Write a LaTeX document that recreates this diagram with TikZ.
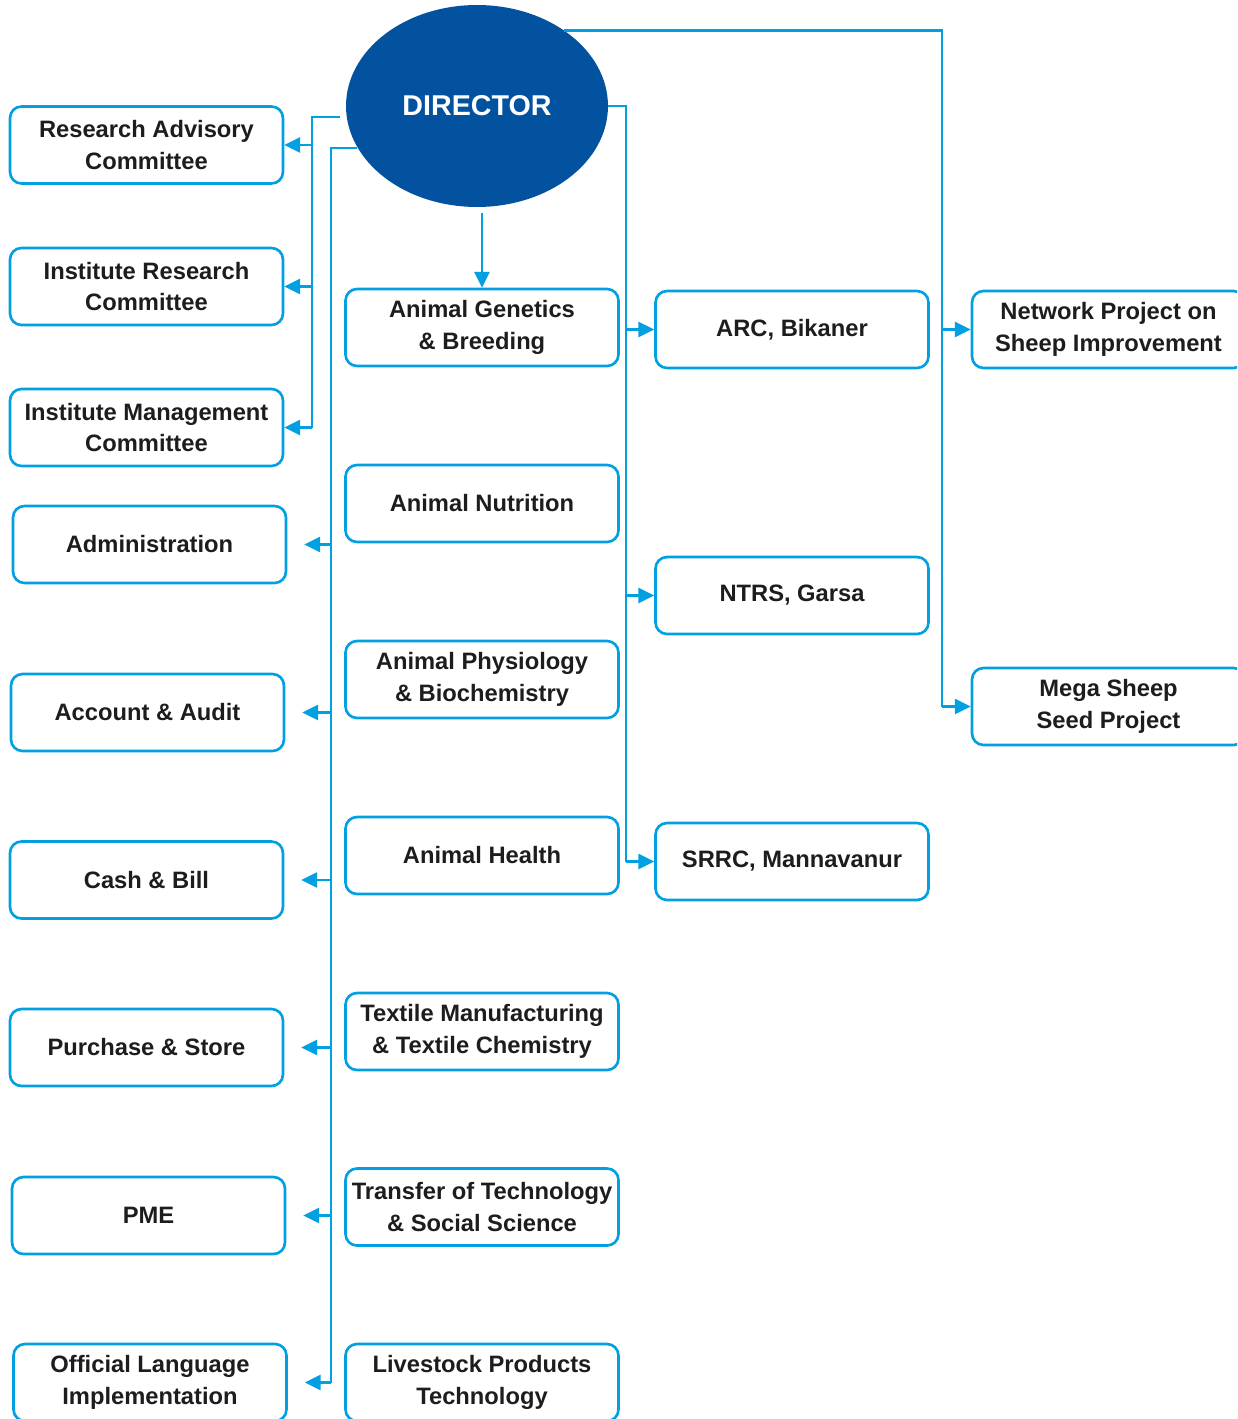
\documentclass[tikz,border=0pt]{standalone}
\usepackage{fontspec}
\setmainfont{Liberation Sans}
\usepackage{tikz}
\usetikzlibrary{arrows.meta,calc,positioning,shapes.geometric}
\definecolor{dirblue}{RGB}{3,82,160}
\definecolor{lineblue}{RGB}{0,160,226}
\definecolor{txtgray}{RGB}{30,28,30}

\begin{document}
\begin{tikzpicture}[x=0.02cm,y=-0.02cm,
  box/.style={draw=lineblue,line width=1.5pt,rounded corners=6.5pt,fill=white,
    minimum width=5.46cm,minimum height=1.54cm,inner xsep=1pt,align=center,
    text=txtgray,font=\bfseries\fontsize{13.5}{18}\selectfont},
  link/.style={lineblue,line width=1.6pt},
  arr/.style={link,-{Triangle[length=9pt,width=8.5pt]}}]
  \useasboundingbox (0,0) rectangle (1237,1419);
  \clip (0,0) rectangle (1237,1419);
  \node[ellipse,fill=dirblue,minimum width=5.24cm,minimum height=4.04cm,inner sep=0pt,
    text=white,font=\bfseries\fontsize{16.3}{20}\selectfont] (dir) at (477,106) {DIRECTOR};
  % committees and sections
  \foreach \n/\x/\y/\t in {rac/146.5/145/{Research Advisory\\Committee},
      irc/146.5/286.5/{Institute Research\\Committee},
      imc/146.5/427.5/{Institute Management\\Committee},
      admin/149.5/544.5/{Administration},
      audit/147.5/712.5/{Account \& Audit},
      cash/146.5/880/{Cash \& Bill},
      store/146.5/1047.5/{Purchase \& Store},
      pme/148.5/1215.5/{PME},
      olang/150/1382.5/{Official Language\\Implementation}}
    \node[box] (\n) at (\x,\y) {\t};
  % divisions
  \foreach \n/\y/\t in {gen/327.5/{Animal Genetics\\\& Breeding},
      nutr/503.5/{Animal Nutrition},
      phys/679.5/{Animal Physiology\\\& Biochemistry},
      health/855.5/{Animal Health},
      textile/1031.5/{Textile Manufacturing\\\& Textile Chemistry},
      tot/1207/{Transfer of Technology\\\& Social Science},
      lpt/1382.5/{Livestock Products\\Technology}}
    \node[box] (\n) at (482,\y) {\t};
  % regional stations and projects
  \foreach \n/\y/\t in {arc/329.5/{ARC, Bikaner},ntrs/595.5/{NTRS, Garsa},srrc/861.5/{SRRC, Mannavanur}}
    \node[box] (\n) at (792,\y) {\t};
  \node[box] (nwp) at (1108.5,329.5) {Network Project on\\Sheep Improvement};
  \node[box] (mega) at (1108.5,706.5) {Mega Sheep\\Seed Project};
  % connectors
  \coordinate (busA) at (312,117);
  \draw[link] ($(dir.west)+(-6,11)$) -- (busA) -- (busA |- imc.east);
  \foreach \n in {rac,irc,imc}
    \draw[arr] (busA |- \n.east) -- (\n.east);
  \coordinate (busB) at (331,148);
  \draw[link] (dir.199 |- busB) -- (busB) -- (busB |- olang.east);
  \foreach \n in {admin,audit,cash,store,pme,olang}
    \draw[arr] (busB |- \n.east) -- ($(\n.east)+(17,0)$);
  \draw[arr] ($(gen.north |- dir.south)+(0,6)$) -- (gen.north);
  \coordinate (busC) at (626,0);
  \draw[link] (dir.east) -| (busC |- srrc.west);
  \foreach \n in {arc,ntrs,srrc}
    \draw[arr] (busC |- \n.west) -- (\n.west);
  \coordinate (busD) at (942,0);
  \draw[link] (dir.41) -| (busD |- mega.west);
  \foreach \n in {nwp,mega}
    \draw[arr] (busD |- \n.west) -- (\n.west);
\end{tikzpicture}
\end{document}
